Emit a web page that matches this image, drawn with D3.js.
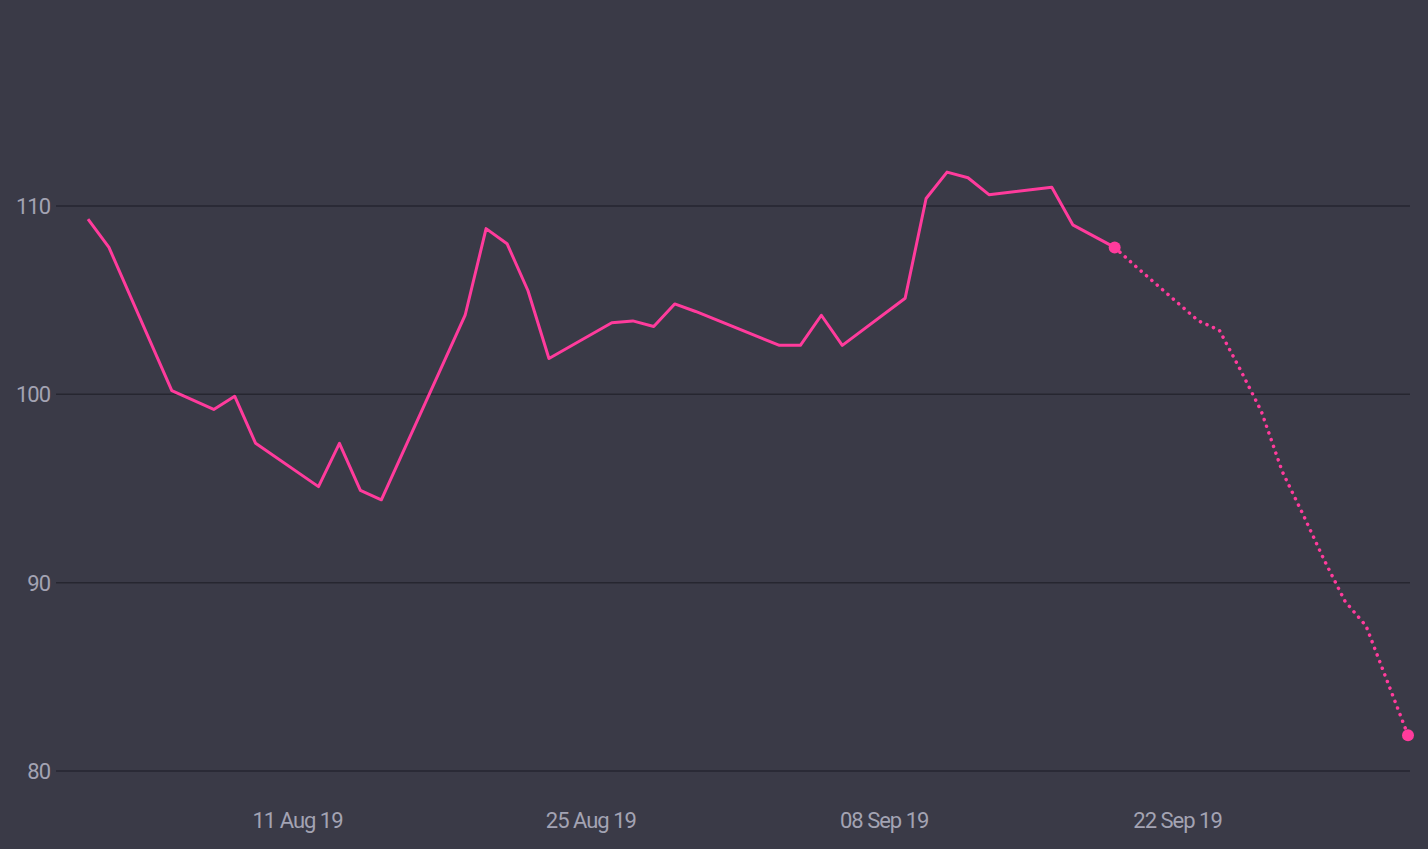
<!DOCTYPE html>
<html><head><meta charset="utf-8">
<script src="https://cdn.jsdelivr.net/npm/d3@7"></script>
<style>
body{margin:0;background:#3a3a47;}
text{font-family:Roboto,sans-serif;}
</style></head><body>
<svg id="chart" width="1428" height="849"></svg>
<script>
// actual values
var actualDates = ['2019-08-01','2019-08-02','2019-08-05','2019-08-07','2019-08-08','2019-08-09','2019-08-12','2019-08-13','2019-08-14','2019-08-15','2019-08-19','2019-08-20','2019-08-21','2019-08-22','2019-08-23','2019-08-26','2019-08-27','2019-08-28','2019-08-29','2019-08-30','2019-09-03','2019-09-04','2019-09-05','2019-09-06','2019-09-09','2019-09-10','2019-09-11','2019-09-12','2019-09-13','2019-09-16','2019-09-17','2019-09-18','2019-09-19'];
var actualValues = [109.3,107.8,100.2,99.2,99.9,97.4,95.1,97.4,94.9,94.4,104.2,108.8,108.0,105.5,101.9,103.8,103.9,103.6,104.8,104.4,102.6,102.6,104.2,102.6,105.1,110.4,111.8,111.5,110.6,111.0,109.0,108.4,107.8];
// forecast values
var forecastDates = ['2019-09-19','2019-09-20','2019-09-23','2019-09-24','2019-09-25','2019-09-26','2019-09-27','2019-09-28','2019-09-29','2019-09-30','2019-10-01','2019-10-02','2019-10-03'];
var forecastValues = [107.8,106.8,103.9,103.4,101.3,99.1,95.9,93.6,91.2,89.0,87.7,84.8,81.9];
var yTicks = [80,90,100,110];
var xTicks = ['2019-08-11','2019-08-25','2019-09-08','2019-09-22'];

var parse = d3.timeParse('%Y-%m-%d');
var svg = d3.select('#chart');
var x = d3.scaleTime().domain([parse('2019-08-01'), parse('2019-10-03')]).range([88, 1408]);
var y = d3.scaleLinear().domain([80, 110]).range([771, 206]);

svg.append('g').selectAll('line').data(yTicks).enter().append('line')
	.attr('x1', 56).attr('x2', 1410)
	.attr('y1', function (d) { return y(d); }).attr('y2', function (d) { return y(d); })
	.style('stroke', '#262630').style('stroke-width', 1.5);

svg.append('g').selectAll('text').data(yTicks).enter().append('text')
	.attr('x', 50).attr('y', function (d) { return y(d) + 8; })
	.attr('text-anchor', 'end').style('fill', '#a3a3b3').style('font-size', '22px').style('letter-spacing', '-1px')
	.text(function (d) { return d; });

svg.append('g').selectAll('text').data(xTicks).enter().append('text')
	.attr('x', function (d) { return x(parse(d)); }).attr('y', 828)
	.attr('text-anchor', 'middle').style('fill', '#a3a3b3').style('font-size', '22px').style('letter-spacing', '-1px')
	.text(function (d) { return d3.timeFormat('%d %b %y')(parse(d)); });

var line = d3.line().x(function (d) { return x(parse(d[0])); }).y(function (d) { return y(d[1]); });
var actual = d3.zip(actualDates, actualValues);
var forecast = d3.zip(forecastDates, forecastValues);

svg.append('path').attr('d', line(actual))
	.style('fill', 'none').style('stroke', '#ff3b9c').style('stroke-width', 3).style('stroke-linejoin', 'round');
svg.append('path').attr('d', line(forecast))
	.style('fill', 'none').style('stroke', '#ff3b9c').style('stroke-width', 3.5)
	.style('stroke-dasharray', '0.1 7').style('stroke-linecap', 'round');

svg.selectAll('circle.end').data([actual[actual.length - 1], forecast[forecast.length - 1]]).enter().append('circle')
	.attr('cx', function (d) { return x(parse(d[0])); }).attr('cy', function (d) { return y(d[1]); })
	.attr('r', 6).style('fill', '#ff3b9c');
</script>
</body></html>
